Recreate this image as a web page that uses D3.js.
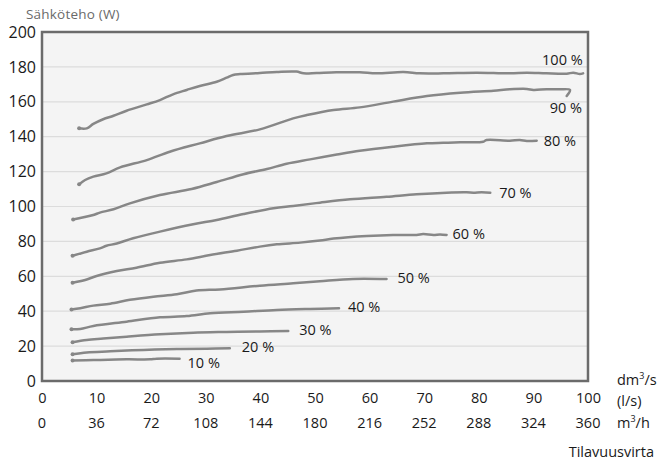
<!DOCTYPE html>
<html>
<head>
<meta charset="utf-8">
<script src="https://cdn.jsdelivr.net/npm/d3@7"></script>
<style>
  html, body { margin: 0; padding: 0; background: #fff; }
  svg { display: block; font-family: "Open Sans", "Noto Sans", sans-serif; }
</style>
</head>
<body>
<svg id="chart" width="658" height="462"></svg>
<script>
// ---- Data (flow dm3/s, power W) ----
const yTicks = [0, 20, 40, 60, 80, 100, 120, 140, 160, 180, 200];
const xTicksLs = [0, 10, 20, 30, 40, 50, 60, 70, 80, 90, 100];
const xTicksM3h = ["0", "36", "72", "108", "144", "180", "216", "252", "288", "324", "360"];
const seriesNames = ["100 %", "90 %", "80 %", "70 %", "60 %", "50 %", "40 %", "30 %", "20 %", "10 %"];

const curve100 = [[6.8,144.8],[8.2,144.8],[9.4,147.3],[11.2,150.0],[13.1,152.0],[15.5,154.9],[19.2,158.5],[21.6,161.0],[24.0,164.3],[26.5,166.8],[28.9,169.1],[32.0,171.5],[33.8,173.8],[35.0,175.4],[36.3,175.9],[39.9,176.5],[43.0,177.1],[46.6,177.3],[47.9,176.3],[50.3,176.5],[53.9,176.9],[58.2,176.9],[61.3,176.3],[66.2,177.1],[69.2,176.3],[73.5,176.3],[79.6,176.7],[85.7,176.3],[88.8,176.7],[92.4,176.3],[96.1,176.1],[97.3,176.7],[98.5,175.9],[99.1,176.3]];
const curve90 = [[6.8,112.7],[7.9,115.2],[9.4,117.1],[11.8,119.0],[14.3,122.4],[19.2,126.6],[23.4,131.4],[28.9,136.2],[33.8,140.4],[39.9,144.2],[46.0,150.5],[48.5,152.4],[53.4,155.3],[58.2,156.8],[64.3,160.1],[70.5,163.3],[76.6,165.2],[82.7,166.4],[85.7,167.2],[88.8,167.4],[90.0,166.8],[92.4,167.2],[94.9,167.2],[96.7,166.8],[96.1,163.3]];
const curve80 = [[5.7,92.5],[9.4,95.1],[10.6,96.5],[13.1,98.4],[16.1,101.8],[21.6,106.6],[27.4,110.0],[32.0,114.0],[36.9,118.5],[41.2,121.5],[44.8,124.5],[49.1,127.0],[54.0,129.8],[58.2,132.0],[64.3,134.3],[70.5,136.2],[73.5,136.5],[76.6,136.8],[80.8,137.1],[81.4,138.1],[85.7,137.7],[87.5,138.1],[88.8,137.5],[90.6,137.7]];
const curve70 = [[5.6,71.8],[8.2,74.1],[10.6,76.0],[11.8,77.5],[13.7,78.8],[16.7,81.8],[21.6,85.6],[27.7,89.8],[32.0,92.3],[36.9,95.7],[42.4,99.0],[46.0,100.3],[50.9,102.2],[56.4,104.1],[63.1,105.6],[68.6,107.0],[74.1,107.9],[77.8,108.1],[79.0,107.9],[80.5,108.1],[82.1,107.9]];
const curve60 = [[5.6,56.3],[8.2,58.2],[10.0,60.2],[13.7,63.0],[17.3,64.9],[21.6,67.8],[26.5,69.7],[30.8,72.2],[35.7,74.7],[39.9,77.0],[43.0,78.3],[47.3,79.3],[50.9,80.5],[53.4,81.6],[59.5,83.1],[64.3,83.7],[68.6,83.7],[69.8,84.2],[71.7,83.7],[72.9,84.0],[74.1,83.7]];
const curve50 = [[5.4,41.0],[7.0,41.7],[9.4,43.2],[12.5,44.3],[16.1,46.5],[20.4,48.3],[24.7,49.7],[28.3,51.8],[32.6,52.5],[39.9,54.6],[46.0,56.0],[50.9,57.2],[57.0,58.5],[63.1,58.4]];
const curve40 = [[5.4,29.6],[7.0,29.8],[9.4,31.5],[15.5,34.0],[21.6,36.5],[26.5,37.2],[30.8,38.8],[36.9,39.7],[43.0,40.7],[49.1,41.3],[54.4,41.7]];
const curve30 = [[5.6,22.2],[8.2,23.5],[11.2,24.3],[15.5,25.4],[21.6,26.8],[27.7,27.7],[33.8,28.1],[39.9,28.4],[45.1,28.7]];
const curve20 = [[5.6,15.3],[8.2,16.4],[12.5,17.0],[18.6,17.8],[24.7,18.3],[30.2,18.5],[34.4,18.7]];
const curve10 = [[5.6,11.7],[9.4,12.0],[15.5,12.4],[19.8,12.4],[21.0,12.8],[25.2,12.8]];

const curves = [curve100, curve90, curve80, curve70, curve60, curve50, curve40, curve30, curve20, curve10];

// ---- Layout / style ----
const W = 658, H = 462;
const m = { left: 42, top: 32, right: 70, bottom: 81 };
const pw = W - m.left - m.right;   // 546
const ph = H - m.top - m.bottom;   // 349
const textColor = "#1a1a1a";
// label offsets (px) relative to each curve's last point: [dx, dy]
const labelOffsets = [[-41, -13], [-17, 12], [7, 0], [9, 0], [6, -1.5], [11, -1], [9, -1.5], [11, -1], [12, -1], [8, 4]];

const svg = d3.select("#chart");
const x = d3.scaleLinear().domain([0, 100]).range([m.left, m.left + pw]);
const y = d3.scaleLinear().domain([0, 200]).range([m.top + ph, m.top]);

// plot background
svg.append("rect")
  .attr("x", x(0)).attr("y", y(200))
  .attr("width", x(100) - x(0)).attr("height", y(0) - y(200))
  .attr("fill", "#f4f4f4");

// gridlines
svg.append("g").selectAll("line").data(yTicks.filter(d => d > 0 && d < 200)).join("line")
  .attr("x1", x(0)).attr("x2", x(100))
  .attr("y1", d => y(d)).attr("y2", d => y(d))
  .attr("stroke", "#dcdcdc").attr("stroke-width", 1.2);

// y axis tick labels
const yAxis = d3.axisLeft(y).tickValues(yTicks).tickSize(0).tickPadding(6);
const gy = svg.append("g").attr("transform", `translate(${x(0)},0)`).call(yAxis);
gy.select(".domain").remove();
gy.selectAll("text").attr("font-size", 16).attr("fill", textColor)
  .attr("font-family", "'Open Sans', sans-serif");

// x axis tick labels (two rows)
const xAxis = d3.axisBottom(x).tickValues(xTicksLs).tickSize(0).tickPadding(12);
const gx = svg.append("g").attr("transform", `translate(0,${y(0)})`).call(xAxis);
gx.select(".domain").remove();
gx.selectAll("text").attr("font-size", 14.5).attr("fill", textColor)
  .attr("font-family", "'Open Sans', sans-serif");

svg.append("g").selectAll("text").data(xTicksLs).join("text")
  .attr("x", d => x(d)).attr("y", y(0) + 47)
  .attr("text-anchor", "middle").attr("font-size", 14.5).attr("fill", textColor)
  .text((d, i) => xTicksM3h[i]);

// curves
const line = d3.line().x(d => x(d[0])).y(d => y(d[1])).curve(d3.curveCatmullRom.alpha(0.5));
svg.append("g").selectAll("path").data(curves).join("path")
  .attr("d", line)
  .attr("fill", "none")
  .attr("stroke", "#878787")
  .attr("stroke-width", 2.5)
  .attr("stroke-linecap", "round")
  .attr("stroke-linejoin", "round");

// start dots
svg.append("g").selectAll("circle").data(curves).join("circle")
  .attr("cx", d => x(d[0][0])).attr("cy", d => y(d[0][1])).attr("r", 2)
  .attr("fill", "#878787");

// curve labels
svg.append("g").selectAll("text").data(curves).join("text")
  .attr("x", (d, i) => x(d[d.length - 1][0]) + labelOffsets[i][0])
  .attr("y", (d, i) => y(d[d.length - 1][1]) + labelOffsets[i][1])
  .attr("dy", "0.35em")
  .attr("font-size", 14.5).attr("fill", textColor)
  .text((d, i) => seriesNames[i]);

// frame
svg.append("rect")
  .attr("x", x(0)).attr("y", y(200))
  .attr("width", x(100) - x(0)).attr("height", y(0) - y(200))
  .attr("fill", "none").attr("stroke", "#6b6b6b").attr("stroke-width", 2.5);

// axis titles
svg.append("text").attr("x", 26).attr("y", 19)
  .attr("font-size", 13.5).attr("letter-spacing", 0.2).attr("fill", "#6a6a6a").text("Sähköteho (W)");

const unitX = 617;
const t1 = svg.append("text").attr("x", unitX).attr("y", y(0) + 4).attr("font-size", 14.5).attr("fill", textColor);
t1.append("tspan").text("dm");
t1.append("tspan").attr("dy", -6).attr("font-size", 9).text("3");
t1.append("tspan").attr("dy", 6).text("/s");

svg.append("text").attr("x", unitX).attr("y", y(0) + 25).attr("font-size", 14.5).attr("fill", textColor).text("(l/s)");

const t3 = svg.append("text").attr("x", unitX).attr("y", y(0) + 47).attr("font-size", 14.5).attr("fill", textColor);
t3.append("tspan").text("m");
t3.append("tspan").attr("dy", -6).attr("font-size", 9).text("3");
t3.append("tspan").attr("dy", 6).text("/h");

svg.append("text").attr("x", 654).attr("y", y(0) + 76).attr("text-anchor", "end")
  .attr("font-size", 14.5).attr("fill", textColor).text("Tilavuusvirta");
</script>
</body>
</html>
